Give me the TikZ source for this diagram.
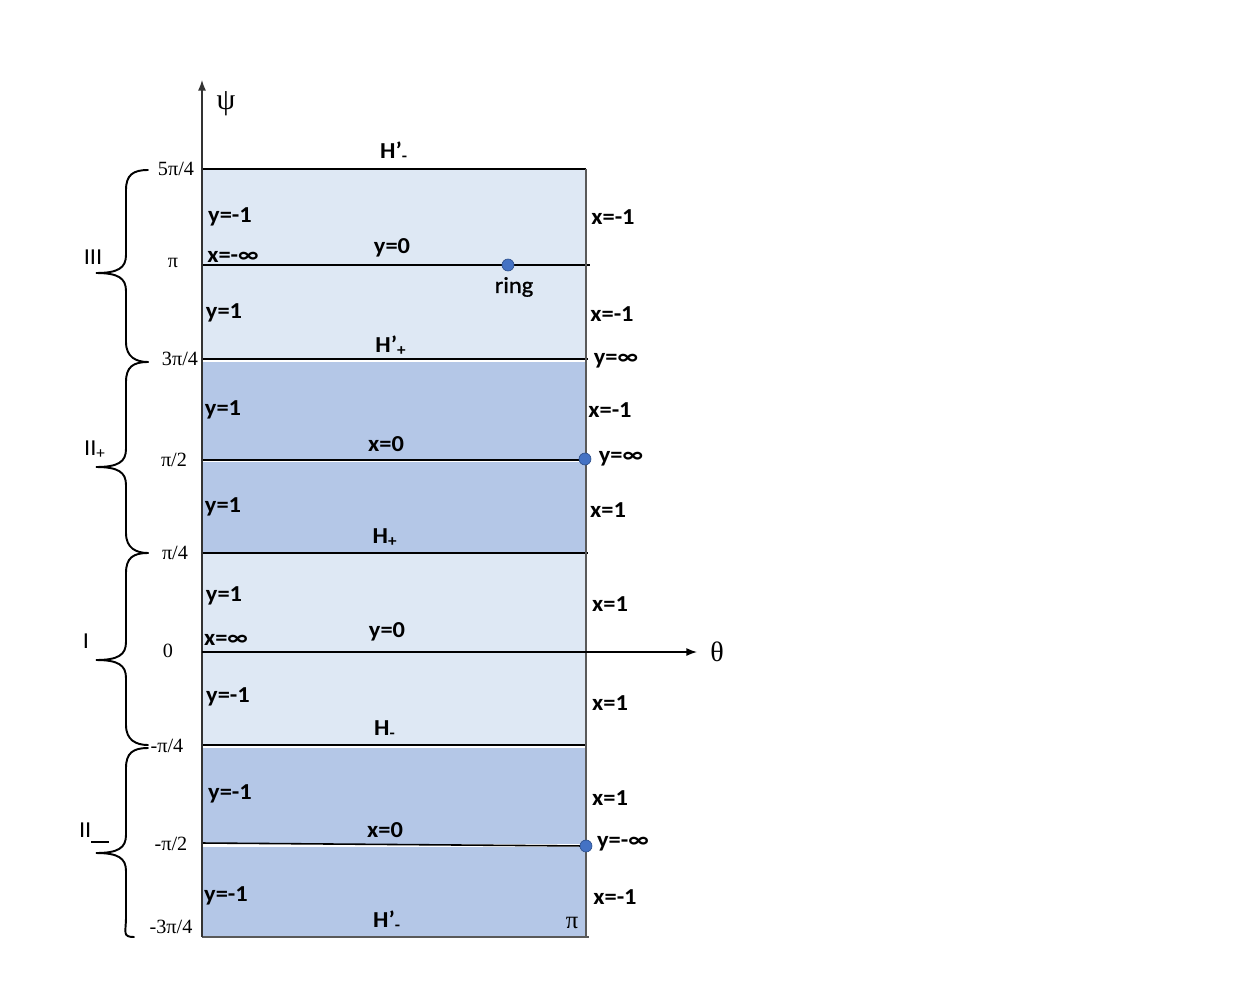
\documentclass[tikz,border=0pt]{standalone}
\usepackage{fontspec}
\setmainfont{Carlito}
\newfontfamily\lbl[FakeStretch=1.07]{Carlito}
\newfontfamily\tms{Liberation Serif}
\newfontfamily\gtms{Liberation Serif}
\usetikzlibrary{arrows.meta}
\definecolor{lightb}{HTML}{DEE8F4}
\definecolor{darkb}{HTML}{B4C7E7}
\definecolor{dotb}{HTML}{4472C4}
\definecolor{dotedge}{HTML}{2F528F}
\definecolor{edgegray}{HTML}{595959}
\newcommand\mybrace[4]{% y0 ymid y1 xend-bottom
  \draw[bracestyle] (148,#1) .. controls (133,#1) and (126,#1+5) .. (126,#1+20)
    -- (126,#2-18) .. controls (126,#2-5) and (118,#2) .. (96,#2)
    .. controls (118,#2) and (126,#2+5) .. (126,#2+18)
    -- (126,#3-20) .. controls (126,#3-5) and (#4-12,#3) .. (#4,#3);}
\begin{document}
\begin{tikzpicture}[x=0.02cm,y=-0.02cm,
  lab/.style={font=\lbl\bfseries\fontsize{13}{15}\selectfont, inner sep=0pt},
  brl/.style={font=\lbl\fontsize{13}{15}\selectfont, inner sep=0pt},
  tk/.style={font=\tms\fontsize{11.5}{13}\selectfont, inner sep=0pt},
  hline/.style={line width=0.9pt, draw=black},
  edgeline/.style={line width=0.6pt, draw=edgegray},
  dotst/.style={circle, fill=dotb, draw=dotedge, line width=0.4pt, minimum size=6.8pt, inner sep=0pt},
  bracestyle/.style={line width=1.1pt, line cap=round},
  tip/.style={-{Latex[length=6pt,width=4.5pt]}}]
\useasboundingbox (0,0) rectangle (1246,997);
% bands
\fill[lightb] (202,169) rectangle (586,265);
\fill[lightb] (202,266) rectangle (586,359);
\fill[darkb] (202,362) rectangle (586,460);
\fill[darkb] (202,462) rectangle (586,553);
\fill[lightb] (202,554) rectangle (586,652);
\fill[lightb] (202,653) rectangle (586,745);
\fill[darkb] (202,748) rectangle (586,844);
\fill[darkb] (202,847) rectangle (586,937);
% coordinates
\coordinate (O) at (202,937);
\coordinate (Ytop) at (202,80);
\coordinate (Xend) at (697,652);
\coordinate (Ax) at (202,652);
% horizontal lines
\draw[hline] (202,169) -- (586,169);
\draw[hline] (202,265) -- (590,265);
\draw[hline] (202,359) -- (588,359);
\draw[hline] (202,460) -- (586,460);
\draw[hline] (202,553) -- (588,553);
\draw[hline] (202,745) -- (586,745);
\draw[hline] (202,843) -- (586,846);
\draw[edgeline] (202,937) -- (589,937);
% right edge
\draw[edgeline] (586,169) -- (586,937);
% axes
\draw[edgeline, line width=0.7pt, draw=black!80, tip] (O) -- (Ytop);
\draw[line width=0.8pt, tip] (Ax) -- (Xend);
\node[font=\gtms\fontsize{17}{19}\selectfont, inner sep=0pt] (psi) at (226,104) {ψ};
\node[font=\gtms\fontsize{16}{18}\selectfont, inner sep=0pt] (theta) at (717,652) {θ};
% dots
\node[dotst] (ring) at (508,265) {};
\node[dotst] (d1) at (585,459) {};
\node[dotst] (d2) at (586,846) {};
% tick labels
\node[tk] (t1) at (176,169) {5π/4};
\node[tk] (t2) at (173,263) {π};
\node[tk] (t3) at (180,359) {3π/4};
\node[tk] (t4) at (174,460) {π/2};
\node[tk] (t5) at (175,553) {π/4};
\node[tk] (t6) at (168,651) {0};
\node[tk] (t7) at (167,746) {-π/4};
\node[tk] (t8) at (171,844) {-π/2};
\node[tk] (t9) at (171,927) {-3π/4};
\node[tk, font=\gtms\fontsize{14}{16}\selectfont] (tpi) at (572,923) {π};
% braces
\mybrace{170}{273}{362}{148}
\mybrace{362}{467}{553}{148}
\mybrace{553}{660}{745}{148}
\mybrace{748}{853}{937}{134}
\node[brl] (bIII) at (93,257) {III};
\node[brl] (bIIp) at (95,450) {II\textsubscript{+}};
\node[brl] (bI) at (86,641) {I};
\node[brl] (bIIm) at (94,833) {II\raisebox{-3pt}{\rule{10pt}{0.9pt}}};
% left labels
\node[lab] (l1) at (230,217) {y=-1};
\node[lab] (l2) at (233,257) {x=-∞};
\node[lab] (l3) at (224,313) {y=1};
\node[lab] (l4) at (223,410) {y=1};
\node[lab] (l5) at (223,507) {y=1};
\node[lab] (l6) at (224,596) {y=1};
\node[lab] (l7) at (226,640) {x=∞};
\node[lab] (l8) at (228,697) {y=-1};
\node[lab] (l9) at (230,794) {y=-1};
\node[lab] (l10) at (226,896) {y=-1};
% middle labels
\node[lab] (m1) at (394,152) {H’\textsubscript{-}};
\node[lab] (m2) at (392,248) {y=0};
\node[lab, font=\lbl\fontsize{13}{15}\selectfont\addfontfeature{FakeBold=1}] (m3) at (514,287) {ring};
\node[lab] (m4) at (391,346) {H’\textsubscript{+}};
\node[lab] (m5) at (386,444) {x=0};
\node[lab] (m6) at (385,538) {H\textsubscript{+}};
\node[lab] (m7) at (387,632) {y=0};
\node[lab] (m8) at (385,730) {H\textsubscript{-}};
\node[lab] (m9) at (385,830) {x=0};
\node[lab] (m10) at (387,921) {H’\textsubscript{-}};
% right labels
\node[lab] (r1) at (613,217) {x=-1};
\node[lab] (r2) at (612,314) {x=-1};
\node[lab] (r3) at (616,361) {y=∞};
\node[lab] (r4) at (610,410) {x=-1};
\node[lab] (r5) at (621,459) {y=∞};
\node[lab] (r6) at (608,510) {x=1};
\node[lab] (r7) at (610,604) {x=1};
\node[lab] (r8) at (610,703) {x=1};
\node[lab] (r9) at (610,798) {x=1};
\node[lab] (r10) at (623,844) {y=-∞};
\node[lab] (r11) at (615,897) {x=-1};
\end{tikzpicture}
\end{document}
